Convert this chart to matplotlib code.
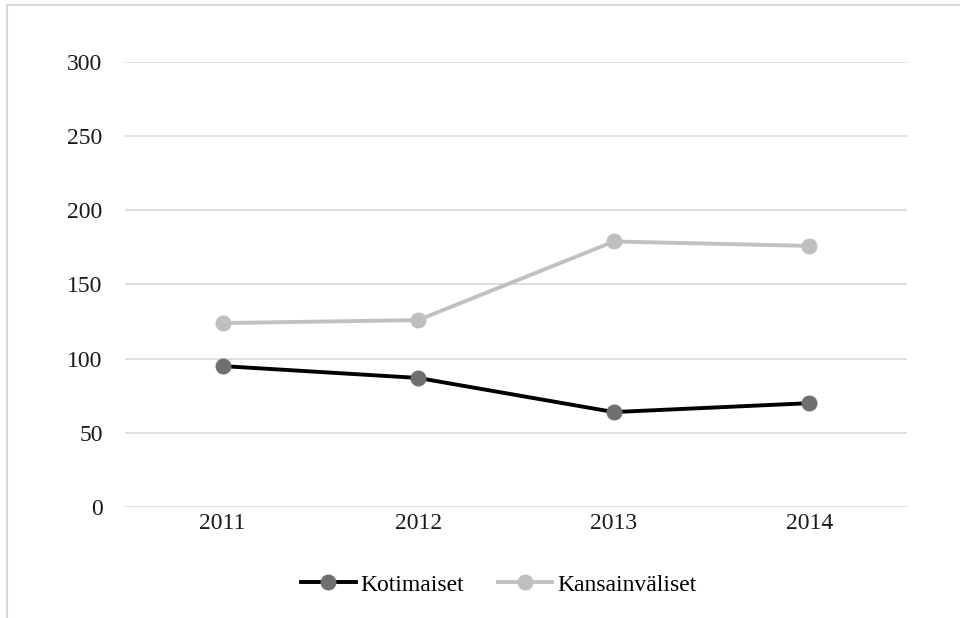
import matplotlib
matplotlib.use("Agg")
import matplotlib.pyplot as plt
from matplotlib.lines import Line2D

years = ["2011", "2012", "2013", "2014"]
kotimaiset = [95, 87, 64, 70]
kansainvaliset = [124, 126, 179, 176]
yticks = [0, 50, 100, 150, 200, 250, 300]

plt.rcParams['font.family'] = ['Liberation Serif', 'DejaVu Serif']

fig = plt.figure(figsize=(9.6, 6.18), dpi=100)
ax = fig.add_axes([0.130, 0.1796, 0.815, 0.7201])

x = list(range(len(years)))
ax.plot(x, kotimaiset, color="black", lw=2.8, marker="o", ms=10.5,
        mfc="#707070", mec="#707070", label="Kotimaiset", zorder=3)
ax.plot(x, kansainvaliset, color="#c0c0c0", lw=2.8, marker="o", ms=10.5,
        mfc="#bfbfbf", mec="#bfbfbf", label="Kansainväliset", zorder=3)

ax.set_xlim(-0.5, 3.5)
ax.set_ylim(0, 300)
ax.set_xticks(x)
ax.set_xticklabels(years)
ax.set_yticks(yticks)
ax.grid(axis="y", color="#d9d9d9", lw=1.2)
ax.set_axisbelow(True)
for s in ax.spines.values():
    s.set_visible(False)
ax.tick_params(axis="both", length=0, labelsize=17, colors="#1a1a1a")
ax.tick_params(axis="y", pad=16)
ax.tick_params(axis="x", pad=4)

ax.legend(loc="center", bbox_to_anchor=(0.478, -0.175), ncol=2, frameon=False,
          fontsize=17, handlelength=2.3, columnspacing=1.45, handletextpad=0.2)

# outer frame (only top and left are visible in the reference)
fig.add_artist(Line2D([7/960, 1], [1 - 5/618, 1 - 5/618], color="#d9d9d9", lw=1.5,
                      transform=fig.transFigure))
fig.add_artist(Line2D([7/960, 7/960], [0, 1 - 5/618], color="#d9d9d9", lw=1.5,
                      transform=fig.transFigure))

fig.savefig("out.png", dpi=100)
